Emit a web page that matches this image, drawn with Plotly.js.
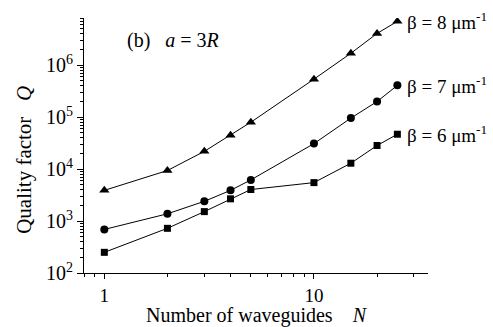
<!DOCTYPE html>
<html>
<head>
<meta charset="utf-8">
<script src="https://cdn.plot.ly/plotly-3.0.1.min.js"></script>
<style>html,body{margin:0;padding:0;background:#fff;}#chart{width:493px;height:327px;}</style>
</head>
<body>
<div id="chart"></div>
<script>
const N = [1, 2, 3, 4, 5, 10, 15, 20, 25];
const qBeta8 = [3900, 9400, 22000, 45000, 80000, 540000, 1700000, 4100000, 7000000];
const qBeta7 = [690, 1380, 2400, 3900, 6200, 31000, 96000, 200000, 410000];
const qBeta6 = [250, 725, 1520, 2680, 4050, 5500, 13000, 28500, 47000];
const seriesLabels = ['β = 8 μm<sup>-1</sup>', 'β = 7 μm<sup>-1</sup>', 'β = 6 μm<sup>-1</sup>'];
const yTickVals = [100, 1000, 10000, 100000, 1000000];
const yTickText = ['10<sup>2</sup>', '10<sup>3</sup>', '10<sup>4</sup>', '10<sup>5</sup>', '10<sup>6</sup>'];
const xTickVals = [1, 10];
const xTickText = ['1', '10'];

const font = 'Liberation Serif';
const series = [qBeta8, qBeta7, qBeta6];
const symbols = ['triangle-up', 'circle', 'square'];
const sizes = [9, 8, 7];

const traces = series.map((q, i) => ({
  x: N, y: q, type: 'scatter', mode: 'lines+markers',
  line: {color: '#000', width: 1},
  marker: {symbol: symbols[i], size: sizes[i], color: '#000'},
  showlegend: false, hoverinfo: 'skip'
}));

const annotations = series.map((q, i) => ({
  x: Math.log10(N[N.length - 1]), y: Math.log10(q[q.length - 1]),
  xref: 'x', yref: 'y', xanchor: 'left', yanchor: 'middle', xshift: 8,
  text: seriesLabels[i], showarrow: false,
  font: {family: font, size: 19, color: '#000'}
}));
annotations.push({
  x: 0.118, y: 0.91, xref: 'paper', yref: 'paper', xanchor: 'left', yanchor: 'middle',
  text: '(b) &nbsp; <i>a</i> = 3<i>R</i>', showarrow: false,
  font: {family: font, size: 20, color: '#000'}
});
annotations.push({
  x: -0.175, y: 0.443, xref: 'paper', yref: 'paper', xanchor: 'center', yanchor: 'middle',
  textangle: -90,
  text: 'Quality factor &nbsp; <i>Q</i>', showarrow: false,
  font: {family: font, size: 21, color: '#000'}
});

const layout = {
  width: 493, height: 327,
  margin: {l: 84, r: 65, t: 18, b: 54},
  paper_bgcolor: '#fff', plot_bgcolor: '#fff',
  font: {family: font, color: '#000', size: 19},
  xaxis: {
    type: 'log', range: [Math.log10(0.8), Math.log10(35)],
    tickvals: xTickVals, ticktext: xTickText,
    ticks: 'outside', ticklen: 5, tickwidth: 1, tickcolor: '#000',
    minor: {ticks: 'outside', ticklen: 3, tickwidth: 1, tickcolor: '#000', dtick: 'D1', showgrid: false},
    showline: true, linecolor: '#000', linewidth: 1, mirror: false,
    showgrid: false, zeroline: false,
    tickfont: {family: font, size: 19},
    title: {text: 'Number of waveguides &nbsp; &nbsp;<i>N</i>', font: {family: font, size: 20}, standoff: 4}
  },
  yaxis: {
    type: 'log', range: [2, 6.91],
    tickvals: yTickVals, ticktext: yTickText,
    ticks: 'outside', ticklen: 6, tickwidth: 1, tickcolor: '#000',
    minor: {ticks: 'outside', ticklen: 3, tickwidth: 1, tickcolor: '#000', dtick: 'D1', showgrid: false},
    showline: true, linecolor: '#000', linewidth: 1, mirror: false,
    showgrid: false, zeroline: false,
    tickfont: {family: font, size: 20}
  },
  annotations: annotations
};

Plotly.newPlot('chart', traces, layout, {staticPlot: true, displayModeBar: false});
</script>
</body>
</html>
